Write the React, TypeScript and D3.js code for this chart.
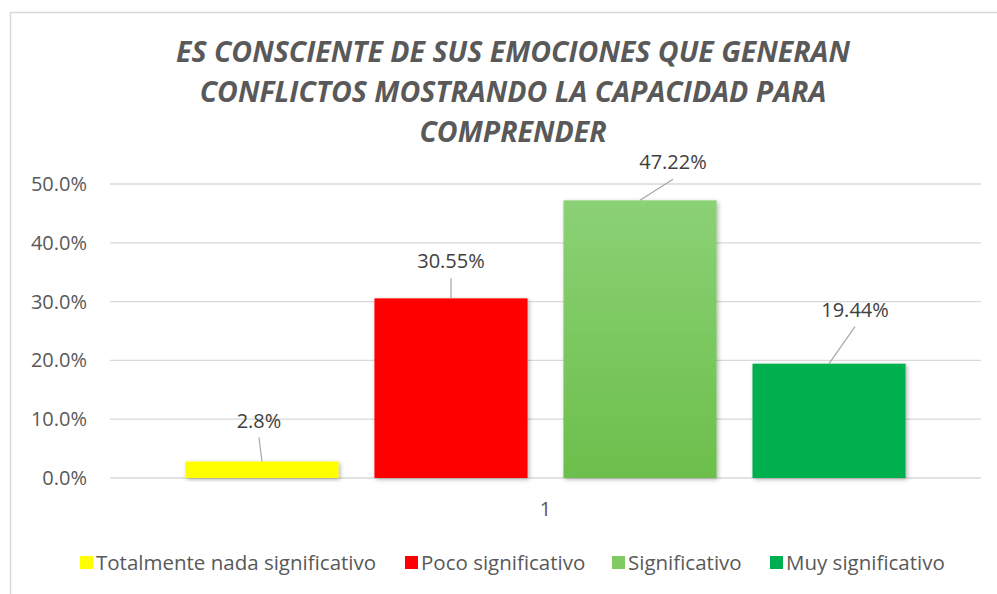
import React from "react";
import * as d3 from "d3";

const titleLines = [
  "ES CONSCIENTE DE SUS EMOCIONES QUE GENERAN",
  "CONFLICTOS MOSTRANDO LA CAPACIDAD PARA",
  "COMPRENDER",
];
const categories = [
  "Totalmente nada significativo",
  "Poco significativo",
  "Significativo",
  "Muy significativo",
];
const values = [0.028, 0.3055, 0.4722, 0.1944];
const valueLabels = ["2.8%", "30.55%", "47.22%", "19.44%"];
const yTicks = [0, 0.1, 0.2, 0.3, 0.4, 0.5];
const xCategoryLabel = "1";

const colors = ["#FFFF00", "#FF0000", "url(#gradGreen)", "#00B050"];
const swatchColors = ["#FFFF00", "#FF0000", "#7FCB62", "#00B050"];
// label placement (user-moved labels, offsets relative to bar top-center)
const labelOffsets = [
  { dx: -3, dy: -41 },
  { dx: 0, dy: -37 },
  { dx: 33, dy: -38 },
  { dx: 26, dy: -54 },
];

const W = 997;
const H = 594;
const FONT = "'Open Sans', 'Liberation Sans', sans-serif";
const TXT = "#595959";

export default function App() {
  const y = d3.scaleLinear().domain([0, 0.5]).range([478, 184]);
  const x = d3
    .scaleBand<string>()
    .domain(categories)
    .range([110, 981])
    .paddingInner(0.19)
    .paddingOuter(0.399);

  const legendX = [80, 405, 612, 770];

  return (
    <svg
      width={W}
      height={H}
      style={{ position: "absolute", left: 0, top: 0, background: "#fff" }}
    >
      <defs>
        <linearGradient id="gradGreen" x1="0" y1="0" x2="0" y2="1">
          <stop offset="0%" stopColor="#8BD175" />
          <stop offset="100%" stopColor="#6CBF4C" />
        </linearGradient>
        <filter id="shadow" x="-10%" y="-10%" width="130%" height="130%">
          <feDropShadow dx="1.5" dy="1.5" stdDeviation="2" floodColor="#000" floodOpacity="0.3" />
        </filter>
      </defs>
      <rect x={0} y={0} width={W} height={H} fill="#fff" />
      <text x={433} y={-5} fontFamily="'DejaVu Serif', serif" fontWeight="bold" fontSize={20} fill="#222" textAnchor="middle">
        g
      </text>
      {/* chart border */}
      <line x1={10.5} y1={12} x2={10.5} y2={H} stroke="#d9d9d9" strokeWidth={1.5} />
      <line x1={10} y1={12.5} x2={W} y2={12.5} stroke="#d9d9d9" strokeWidth={1.5} />

      {/* title */}
      {titleLines.map((t, i) => (
        <text
          key={i}
          x={513}
          y={62 + i * 40}
          textAnchor="middle"
          fontFamily={FONT}
          fontStyle="italic"
          fontWeight="bold"
          fontSize={28.5}
          fill={TXT}
        >
          {t}
        </text>
      ))}

      {/* grid + y ticks */}
      {yTicks.map((t) => (
        <g key={t}>
          <line x1={110} x2={981} y1={y(t)} y2={y(t)} stroke="#d9d9d9" strokeWidth={1.3} />
          <text
            x={87}
            y={y(t)}
            dy="0.35em"
            textAnchor="end"
            fontFamily={FONT}
            fontSize={20}
            fill={TXT}
          >
            {d3.format(".1%")(t)}
          </text>
        </g>
      ))}

      {/* bars */}
      {categories.map((c, i) => (
        <rect
          key={c}
          x={x(c)}
          y={y(values[i])}
          width={x.bandwidth()}
          height={y(0) - y(values[i])}
          fill={colors[i]}
          filter="url(#shadow)"
        />
      ))}

      {/* labels with leader lines */}
      {categories.map((c, i) => {
        const bx = (x(c) as number) + x.bandwidth() / 2;
        const by = y(values[i]);
        const lx = bx + labelOffsets[i].dx;
        const ly = by + labelOffsets[i].dy;
        return (
          <g key={c}>
            <line x1={lx} y1={ly + 17} x2={bx} y2={by} stroke="#a6a6a6" strokeWidth={1.2} />
            <text
              x={lx}
              y={ly}
              dy="0.35em"
              textAnchor="middle"
              fontFamily={FONT}
              fontSize={20}
              fill="#404040"
            >
              {valueLabels[i]}
            </text>
          </g>
        );
      })}

      {/* x category label */}
      <text x={545.5} y={509} dy="0.35em" textAnchor="middle" fontFamily={FONT} fontSize={20} fill={TXT}>
        {xCategoryLabel}
      </text>

      {/* legend */}
      {categories.map((c, i) => (
        <g key={c}>
          <rect x={legendX[i]} y={556} width={13} height={13} fill={swatchColors[i]} />
          <text
            x={legendX[i] + 16}
            y={563}
            dy="0.35em"
            fontFamily={FONT}
            fontSize={20.5}
            fill={TXT}
          >
            {c}
          </text>
        </g>
      ))}
    </svg>
  );
}
